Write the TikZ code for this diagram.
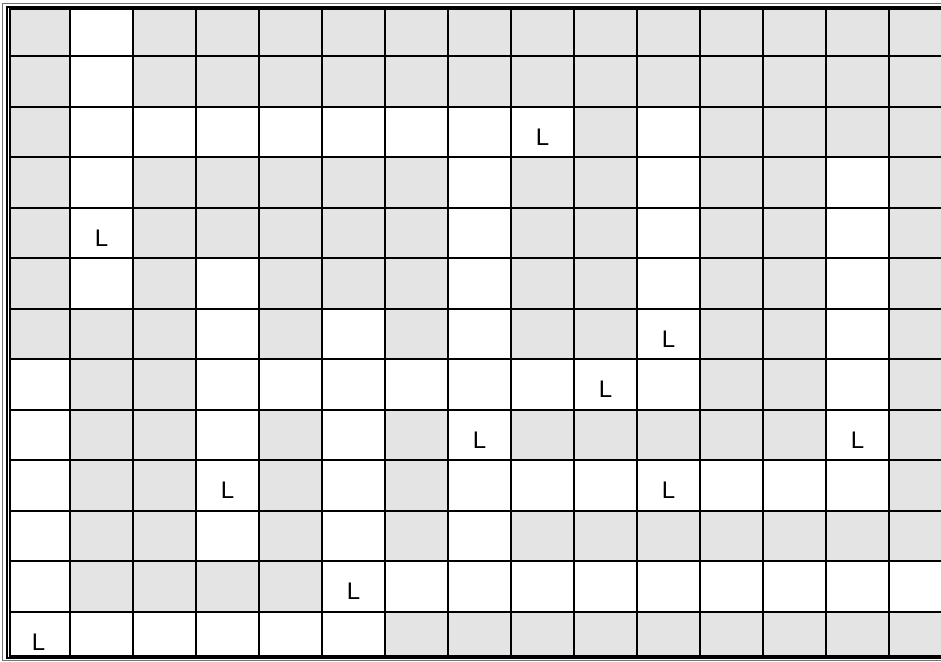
\documentclass[tikz,border=0pt]{standalone}
\usepackage{fontspec}
\setsansfont{Liberation Sans}
\usepackage{xcolor}
\usepackage{tikz}
\definecolor{cellgray}{RGB}{228,228,228}

\begin{document}
\begin{tikzpicture}[
  x=1pt, y=-1pt,
  gridline/.style={line width=2pt, black},
  letter/.style={font=\sffamily\fontsize{24}{24}\selectfont, inner sep=0pt}
]
\useasboundingbox (0,0) rectangle (941,661);

\begin{scope}
\clip (10,9.5) rectangle (941,656);
\fill[cellgray] (0,0) rectangle (941,661);
% white cells, row / columns
\foreach \r/\cs in {0/{1}, 1/{1}, 2/{1,2,3,4,5,6,7,8,10}, 3/{1,7,10,13},
                    4/{1,7,10,13}, 5/{1,3,7,10,13}, 6/{3,5,7,10,13},
                    7/{0,3,4,5,6,7,8,9,10,13}, 8/{0,3,5,7,13},
                    9/{0,3,5,7,8,9,10,11,12,13}, 10/{0,3,5,7},
                    11/{0,5,6,7,8,9,10,11,12,13,14}, 12/{0,1,2,3,4,5}}{
  \foreach \c in \cs
    \fill[white] ({7+63*\c},{5.5+50.5*\r}) rectangle ++(63,50.5);
}
\foreach \i in {1,...,14} \draw[gridline] ({7+63*\i},0) -- ++(0,661);
\foreach \j in {1,...,12} \draw[gridline] (0,{5.5+50.5*\j}) -- ++(941,0);
\end{scope}

% frame
\draw[black!55, line width=1pt] (2.5,4) rectangle (950,660);
\draw[black, line width=1.2pt] (7,7) rectangle (950,658);
\draw[black, line width=2pt] (10,9.5) rectangle (950,656);

% letters
\foreach \r/\c in {2/8, 4/1, 6/10, 7/9, 8/7, 8/13, 9/3, 9/10, 11/5, 12/0}
  \node[letter] (l\r-\c) at ({38.5+63*\c},{36+50.5*\r}) {L};

\end{tikzpicture}
\end{document}
